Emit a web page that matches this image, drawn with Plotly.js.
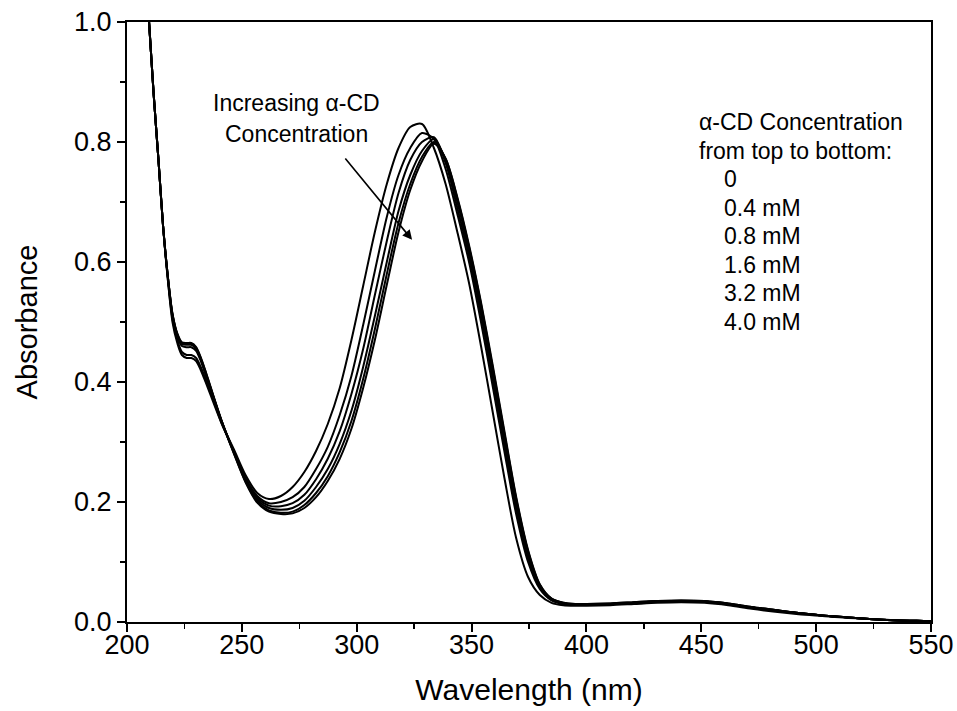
<!DOCTYPE html>
<html>
<head>
<meta charset="utf-8">
<script src="https://cdn.plot.ly/plotly-3.0.1.min.js"></script>
<style>html,body{margin:0;padding:0;background:#fff;}#chart{width:957px;height:711px;}</style>
</head>
<body>
<div id="chart"></div>
<script>
// Wavelength sample points (nm)
const wavelength = [205.5,207.5,209.6,211.6,213.7,215.7,217.8,219.8,221.9,223.9,226.0,228.0,230.1,232.1,234.2,236.2,241.3,246.5,251.6,256.7,261.8,267.0,272.1,277.2,282.3,287.4,292.6,297.7,302.8,307.9,313.1,318.2,323.3,328.4,333.6,338.7,343.8,348.9,354.1,359.2,364.3,369.4,374.6,379.7,384.8,389.9,395.1,400.2,410.4,420.7,430.9,441.2,451.4,461.7,471.9,482.2,492.4,502.7,512.9,523.2,533.4,543.7,553.9];

// Absorbance for each alpha-CD concentration
const abs_0mM = [1.25,1.12,1.0,0.88,0.77,0.66,0.57,0.50,0.465,0.445,0.44,0.44,0.435,0.42,0.40,0.38,0.33,0.288,0.245,0.215,0.205,0.21,0.225,0.25,0.285,0.33,0.39,0.47,0.56,0.65,0.73,0.79,0.825,0.83,0.79,0.73,0.65,0.565,0.46,0.35,0.24,0.14,0.075,0.045,0.032,0.028,0.027,0.027,0.028,0.030,0.032,0.033,0.032,0.028,0.022,0.017,0.013,0.010,0.007,0.005,0.003,0.002,0.001];
const abs_04mM = [1.25,1.12,1.0,0.88,0.77,0.66,0.57,0.505,0.47,0.45,0.445,0.445,0.44,0.425,0.405,0.385,0.33,0.285,0.24,0.21,0.198,0.200,0.208,0.225,0.255,0.292,0.345,0.41,0.495,0.585,0.675,0.745,0.79,0.815,0.805,0.755,0.68,0.60,0.50,0.393,0.284,0.18,0.10,0.055,0.036,0.030,0.029,0.029,0.030,0.032,0.034,0.035,0.034,0.030,0.024,0.019,0.015,0.011,0.008,0.005,0.003,0.002,0.001];
const abs_08mM = [1.25,1.12,1.0,0.88,0.77,0.66,0.575,0.51,0.475,0.46,0.458,0.458,0.452,0.435,0.412,0.39,0.333,0.284,0.238,0.207,0.194,0.193,0.198,0.212,0.238,0.272,0.318,0.38,0.455,0.545,0.635,0.715,0.77,0.80,0.808,0.765,0.69,0.61,0.512,0.405,0.295,0.19,0.107,0.058,0.037,0.031,0.029,0.029,0.030,0.032,0.034,0.035,0.034,0.030,0.024,0.019,0.015,0.011,0.008,0.005,0.003,0.002,0.001];
const abs_16mM = [1.25,1.12,1.0,0.88,0.77,0.66,0.575,0.512,0.478,0.463,0.462,0.462,0.455,0.438,0.415,0.392,0.334,0.283,0.236,0.204,0.19,0.187,0.19,0.202,0.225,0.255,0.297,0.352,0.425,0.51,0.60,0.685,0.745,0.785,0.805,0.77,0.70,0.618,0.523,0.416,0.306,0.20,0.114,0.06,0.038,0.031,0.029,0.029,0.030,0.032,0.034,0.035,0.034,0.030,0.024,0.019,0.015,0.011,0.008,0.005,0.003,0.002,0.001];
const abs_32mM = [1.25,1.12,1.0,0.88,0.77,0.66,0.575,0.513,0.48,0.465,0.464,0.464,0.457,0.44,0.417,0.393,0.334,0.282,0.234,0.201,0.186,0.182,0.184,0.195,0.215,0.243,0.283,0.335,0.405,0.488,0.58,0.665,0.73,0.775,0.80,0.772,0.706,0.625,0.53,0.424,0.314,0.206,0.118,0.062,0.039,0.032,0.030,0.030,0.031,0.033,0.035,0.036,0.035,0.031,0.025,0.020,0.015,0.011,0.008,0.005,0.003,0.002,0.001];
const abs_40mM = [1.25,1.12,1.0,0.88,0.77,0.66,0.575,0.514,0.481,0.466,0.465,0.465,0.458,0.441,0.418,0.394,0.334,0.281,0.233,0.199,0.184,0.18,0.181,0.19,0.208,0.235,0.272,0.322,0.39,0.47,0.562,0.65,0.72,0.768,0.797,0.772,0.708,0.628,0.533,0.428,0.318,0.209,0.12,0.063,0.039,0.032,0.030,0.030,0.031,0.033,0.035,0.036,0.035,0.031,0.025,0.020,0.015,0.011,0.008,0.005,0.003,0.002,0.001];

const seriesValues = [abs_0mM, abs_04mM, abs_08mM, abs_16mM, abs_32mM, abs_40mM];
const seriesNames = ['0','0.4 mM','0.8 mM','1.6 mM','3.2 mM','4.0 mM'];

const xTicks = [200,250,300,350,400,450,500,550];
const yTicks = [0.0,0.2,0.4,0.6,0.8,1.0];

const legendHeader = ['\u03b1-CD Concentration','from top to bottom:'];
const arrowLabel = ['Increasing \u03b1-CD','Concentration'];

const FONT = 'Liberation Sans, Arial, sans-serif';

const traces = seriesValues.map((v,i)=>({
  x: wavelength, y: v, type:'scatter', mode:'lines', name: seriesNames[i],
  line:{color:'#000', width:2, shape:'spline', smoothing:0.8},
  showlegend:false, hoverinfo:'skip', cliponaxis:true
}));

const annotations = [];
legendHeader.forEach((t,i)=>{
  annotations.push({x:448.2, y:0.833 - i*0.0475, xref:'x', yref:'y', text:t, showarrow:false,
    xanchor:'left', yanchor:'middle', font:{family:FONT, size:23, color:'#000'}});
});
seriesNames.forEach((t,i)=>{
  annotations.push({x:459.0, y:0.738 - i*0.0475, xref:'x', yref:'y', text:t, showarrow:false,
    xanchor:'left', yanchor:'middle', font:{family:FONT, size:23, color:'#000'}});
});
arrowLabel.forEach((t,i)=>{
  annotations.push({x:274.0, y:0.865 - i*0.052, xref:'x', yref:'y', text:t, showarrow:false,
    xanchor:'center', yanchor:'middle', font:{family:FONT, size:23, color:'#000'}});
});
annotations.push({x:324.1, y:0.637, ax:294.5, ay:0.775, axref:'x', ayref:'y', xref:'x', yref:'y',
  text:'', showarrow:true, arrowhead:2, arrowsize:1.2, arrowwidth:1.6, arrowcolor:'#000'});

const layout = {
  width:957, height:711,
  margin:{l:127, r:26, t:22, b:89},
  paper_bgcolor:'#fff', plot_bgcolor:'#fff',
  font:{family:FONT, color:'#000'},
  xaxis:{
    range:[200,550], tickvals:xTicks, ticktext:xTicks.map(String),
    showline:true, linecolor:'#000', linewidth:2, mirror:true,
    ticks:'outside', ticklen:8, tickwidth:2, tickcolor:'#000',
    minor:{dtick:25, tick0:200, ticks:'outside', ticklen:5, tickwidth:1.5, tickcolor:'#000'},
    showgrid:false, zeroline:false, ticklabeloverflow:'allow', ticklabelstandoff:-10,
    tickfont:{family:FONT, size:27, color:'#000'},
    title:{text:'Wavelength (nm)', font:{family:FONT, size:30, color:'#000'}, standoff:20}
  },
  yaxis:{
    range:[0,1.0], tickvals:yTicks, ticktext:yTicks.map(v=>v.toFixed(1)),
    showline:true, linecolor:'#000', linewidth:2, mirror:true,
    ticks:'outside', ticklen:8, tickwidth:2, tickcolor:'#000',
    minor:{dtick:0.1, tick0:0, ticks:'outside', ticklen:5, tickwidth:1.5, tickcolor:'#000'},
    showgrid:false, zeroline:false, ticklabelstandoff:0,
    tickfont:{family:FONT, size:27, color:'#000'},
    title:{text:'Absorbance', font:{family:FONT, size:29, color:'#000'}, standoff:28}
  },
  annotations: annotations
};

Plotly.newPlot('chart', traces, layout, {staticPlot:true, displayModeBar:false});
</script>
</body>
</html>
